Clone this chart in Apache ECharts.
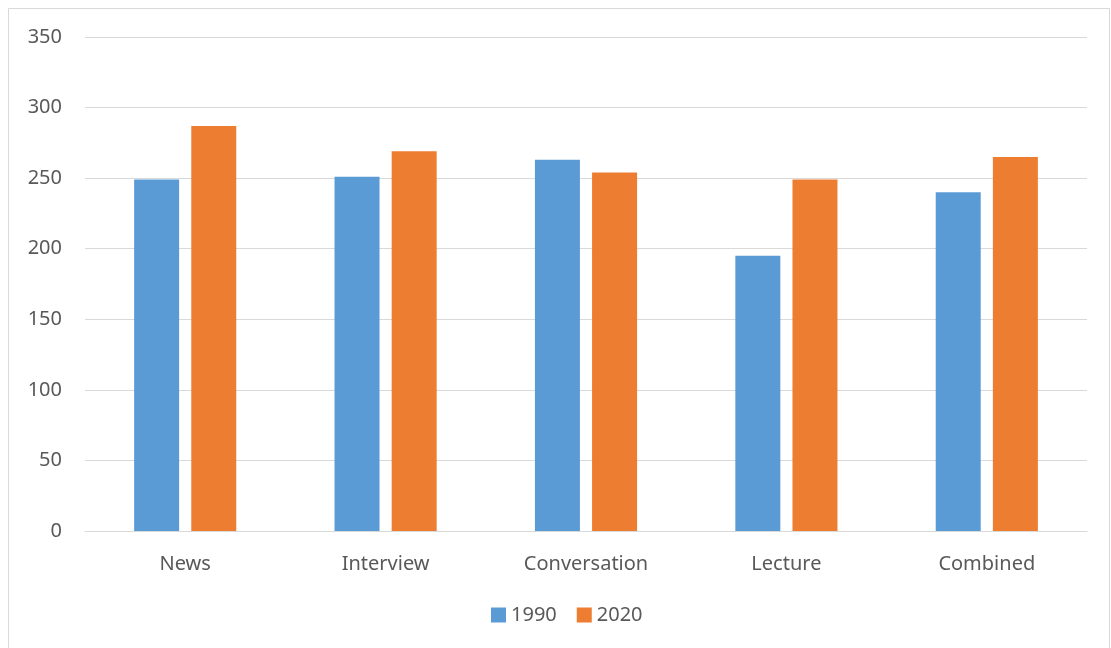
<!DOCTYPE html>
<html>
<head>
<meta charset="utf-8">
<script src="https://cdn.jsdelivr.net/npm/echarts@6/dist/echarts.min.js"></script>
<style>html,body{margin:0;padding:0;background:#fff}#c{width:1111px;height:648px}</style>
</head>
<body>
<div id="c"></div>
<script>
var categories = ['News', 'Interview', 'Conversation', 'Lecture', 'Combined'];
var seriesNames = ['1990', '2020'];
var values1990 = [249, 251, 263, 195, 240];
var values2020 = [287, 269, 254, 249, 265];
var yTicks = [0, 50, 100, 150, 200, 250, 300, 350];

var font = '"Noto Sans", sans-serif';
var chart = echarts.init(document.getElementById('c'));
chart.setOption({
  animation: false,
  backgroundColor: '#fff',
  graphic: [{
    type: 'rect', shape: {x: 8.5, y: 8.5, width: 1101, height: 660},
    style: {fill: 'none', stroke: '#d9d9d9', lineWidth: 1}, silent: true
  }],
  grid: {left: 85, right: 24, top: 37, bottom: 117, containLabel: false},
  legend: {
    data: seriesNames, bottom: 18, left: 486, itemWidth: 15, itemHeight: 15, itemGap: 20,
    icon: 'rect',
    textStyle: {fontFamily: font, fontSize: 20, color: '#595959'}
  },
  xAxis: {
    type: 'category', data: categories,
    axisLine: {lineStyle: {color: '#d9d9d9', width: 1}},
    axisTick: {show: false},
    axisLabel: {fontFamily: font, fontSize: 20, color: '#595959', margin: 23}
  },
  yAxis: {
    type: 'value', min: yTicks[0], max: yTicks[yTicks.length - 1], interval: 50,
    axisLine: {show: false}, axisTick: {show: false},
    splitLine: {lineStyle: {color: '#d9d9d9', width: 1}},
    axisLabel: {fontFamily: font, fontSize: 20, color: '#595959', margin: 23}
  },
  series: [
    {name: seriesNames[0], type: 'bar', data: values1990, barWidth: 45, barGap: '27%', itemStyle: {color: '#5b9bd5'}},
    {name: seriesNames[1], type: 'bar', data: values2020, barWidth: 45, itemStyle: {color: '#ed7d31'}}
  ]
});
</script>
</body>
</html>
